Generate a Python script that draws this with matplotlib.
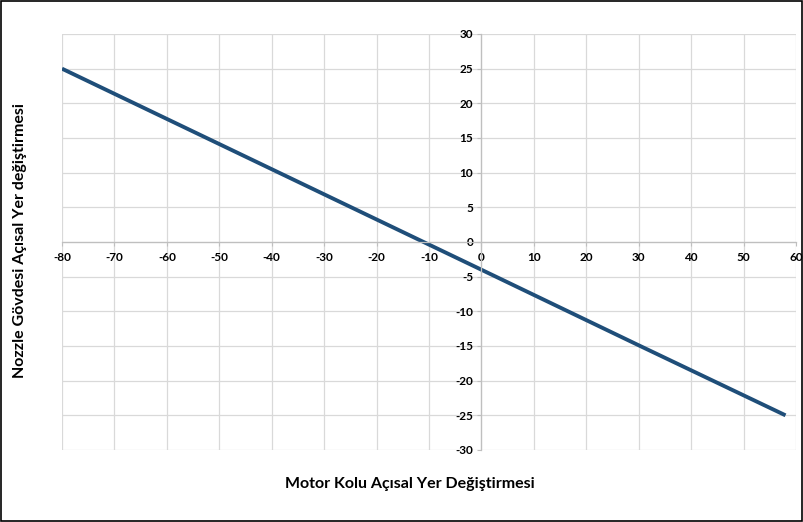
import matplotlib.pyplot as plt
import numpy as np

# Values
motor_angle = [-80, -40, 0, 30, 58]
nozzle_angle = [25, 10.5, -4, -14.9, -25]

x_ticks = list(range(-80, 61, 10))
y_ticks = list(range(-30, 31, 5))

plt.rcParams["font.family"] = ["Lato", "DejaVu Sans"]
plt.rcParams["axes.unicode_minus"] = False  # Excel shows a plain hyphen

fig = plt.figure(figsize=(8.04, 5.22), dpi=100)
ax = fig.add_axes([62 / 804, 1 - 450 / 522, (796 - 62) / 804, (450 - 34) / 522])

ax.plot(motor_angle, nozzle_angle, color="#1f4e79", linewidth=2.8, solid_capstyle="butt")

ax.set_xlim(-80, 60)
ax.set_ylim(-30, 30)
ax.set_xticks(x_ticks)
ax.set_yticks(y_ticks)
ax.grid(True, color="#d9d9d9", linewidth=0.9)
ax.set_axisbelow(True)

# axes cross at the origin, like in Excel
ax.spines["left"].set_position(("data", 0))
ax.spines["bottom"].set_position(("data", 0))
ax.spines["top"].set_visible(False)
ax.spines["right"].set_visible(False)
for s in ("left", "bottom"):
    ax.spines[s].set_color("#bfbfbf")
    ax.spines[s].set_linewidth(0.9)

ax.tick_params(axis="both", length=3, color="#bfbfbf", labelsize=8.5, pad=3)
ax.tick_params(axis="x", direction="out", pad=4)
for lab in ax.get_xticklabels() + ax.get_yticklabels():
    lab.set_fontweight("bold")

fig.text(410 / 804, 1 - 484 / 522, "Motor Kolu Açısal Yer Değiştirmesi",
         ha="center", va="center", fontsize=11.5, fontweight="bold")
fig.text(20 / 804, 1 - 240 / 522, "Nozzle Gövdesi Açısal Yer değiştirmesi",
         ha="center", va="center", rotation=90, fontsize=11.5, fontweight="bold")

# outer chart border
fig.patches.append(plt.Rectangle((0.001, 0.002), 0.997, 0.996, transform=fig.transFigure,
                                 fill=False, edgecolor="black", linewidth=1.2))

fig.savefig("out.png", dpi=100)
